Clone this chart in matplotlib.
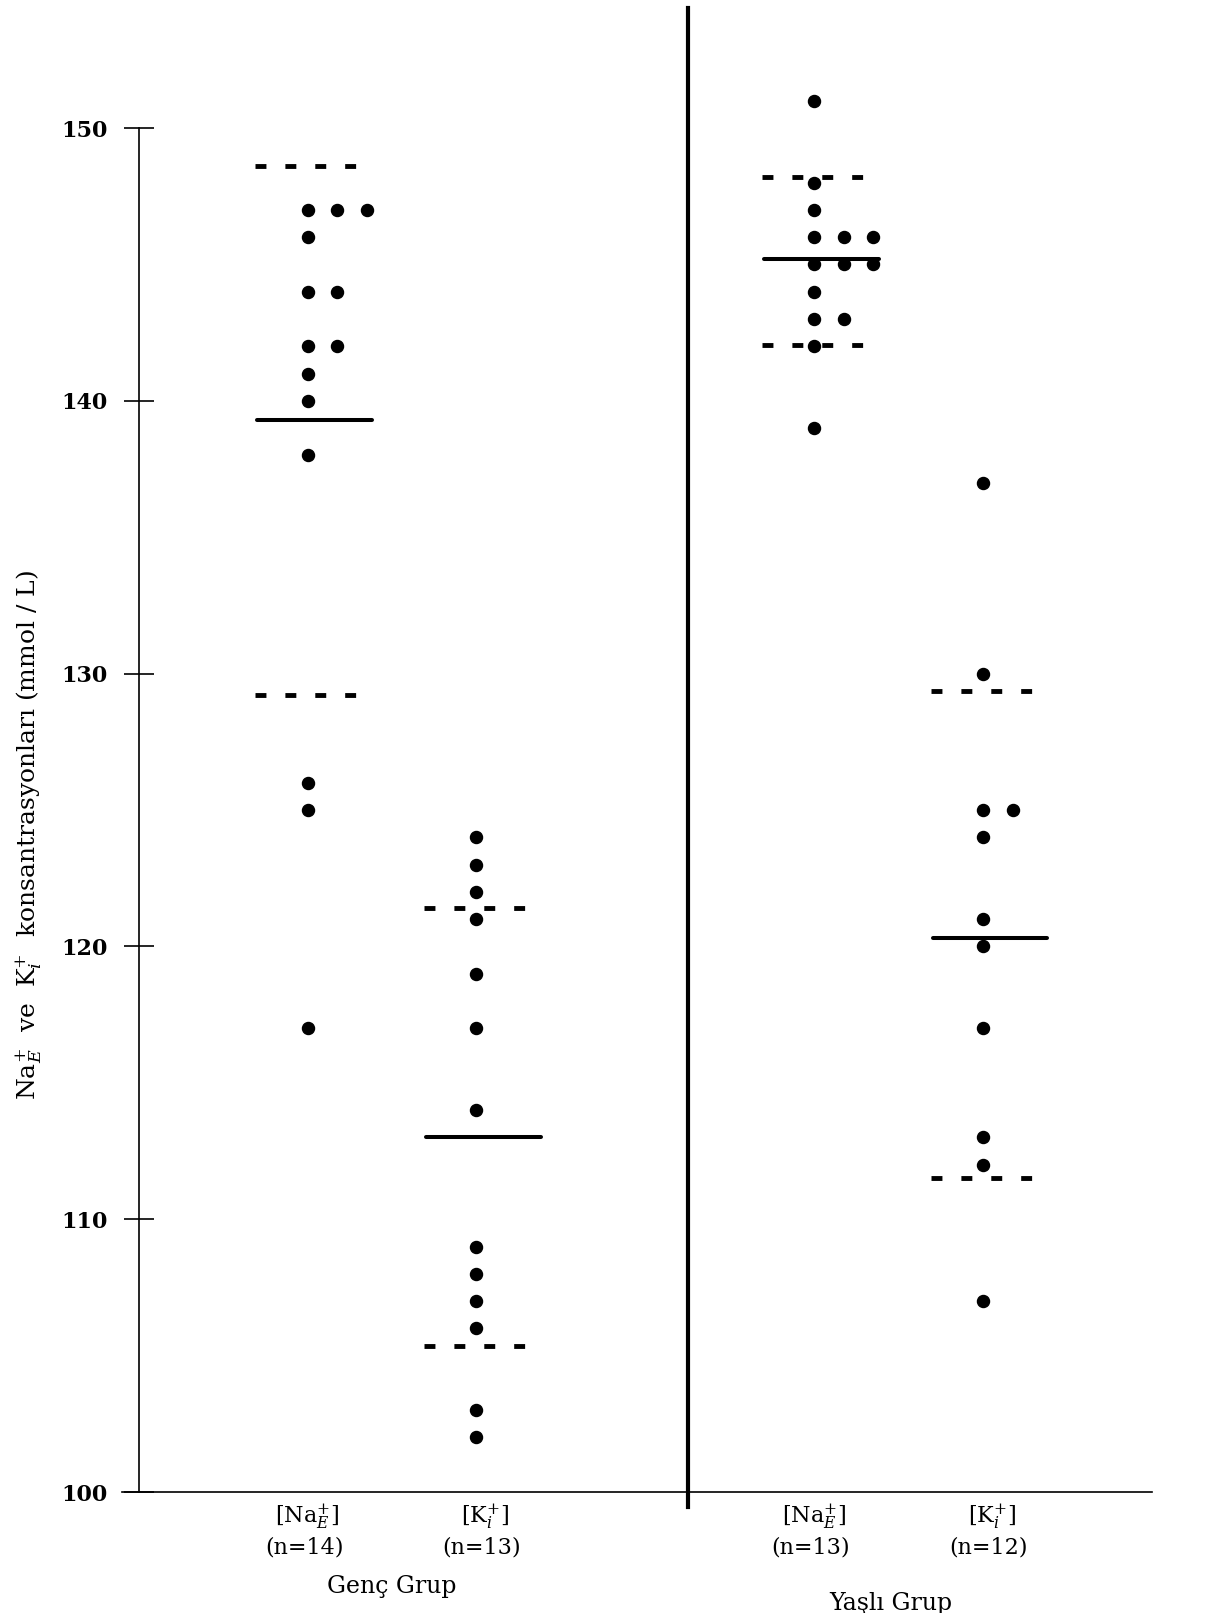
import matplotlib
matplotlib.use("Agg")
import matplotlib.pyplot as plt
from collections import Counter

# (mmol / L)
genc_na = [147, 147, 147, 146, 144, 144, 142, 142, 141, 140, 138, 126, 125, 117]
genc_k = [124, 123, 122, 121, 119, 117, 114, 109, 108, 107, 106, 103, 102]
yasli_na = [151, 148, 147, 146, 146, 146, 145, 145, 145, 144, 143, 143, 142, 139]
yasli_k = [137, 130, 125, 125, 124, 121, 120, 117, 113, 112, 107]

groups = [genc_na, genc_k, yasli_na, yasli_k]
col_labels = [r"[Na$^{+}_{E}$]", r"[K$^{+}_{i}$]", r"[Na$^{+}_{E}$]", r"[K$^{+}_{i}$]"]
n_labels = ["(n=14)", "(n=13)", "(n=13)", "(n=12)"]
group_names = ["Genç Grup", "Yaşlı Grup"]

means = [139.3, 113.0, 145.2, 120.3]
sd_upper = [148.6, 121.4, 148.2, 129.35]
sd_lower = [129.2, 105.35, 142.05, 111.5]

xpos = [1, 2, 4, 5]

plt.rcParams['font.family'] = ['DejaVu Serif']
plt.rcParams['mathtext.fontset'] = 'dejavuserif'

fig = plt.figure(figsize=(12.27, 16.13), dpi=100)
ax = fig.add_axes([0.113, 0.075, 0.826, 0.920])

# repeated values are set side by side
step = 0.175
for x, vals in zip(xpos, groups):
    seen = Counter()
    xs = []
    for v in vals:
        xs.append(x + seen[v] * step)
        seen[v] += 1
    ax.scatter(xs, vals, s=75, color='black', zorder=3)

# mean (solid) and mean +/- SD (dashed)
for x, m, hi, lo in zip(xpos, means, sd_upper, sd_lower):
    ax.plot([x - 0.3, x + 0.38], [m, m], color='black', lw=2.9,
            solid_capstyle='round', zorder=2)
    for y in (hi, lo):
        ax.plot([x - 0.31, x + 0.31], [y, y], color='black', lw=3.5,
                linestyle=(0, (2.25, 3.9)), dash_capstyle='butt', zorder=2)

# separator between the two groups
ax.plot([3.25, 3.25], [99.45, 154.4], color='black', lw=3, clip_on=False)

ax.set_xlim(0, 6)
ax.set_ylim(100, 154.4)
ax.set_yticks([100, 110, 120, 130, 140, 150])
ax.set_xticks([])
ax.spines['top'].set_visible(False)
ax.spines['right'].set_visible(False)
ax.spines['left'].set_bounds(100, 150)
ax.spines['left'].set_linewidth(1.2)
ax.spines['bottom'].set_linewidth(1.2)
ax.spines['bottom'].set_bounds(-0.1, 6)
ax.tick_params(axis='y', direction='inout', length=21, width=1.2, pad=12,
               labelsize=16)
for t in ax.get_yticklabels():
    t.set_fontweight('bold')

tr = ax.get_xaxis_transform()
for x, lab, n in zip(xpos, col_labels, n_labels):
    dx = 0 if 'Na' in lab else 0.05
    ax.annotate(lab, xy=(x + dx, 0), xycoords=tr, xytext=(0, -18),
                textcoords='offset points', ha='center', va='center', fontsize=16)
    ax.annotate(n, xy=(x + dx - 0.02, 0), xycoords=tr, xytext=(0, -40),
                textcoords='offset points', ha='center', va='center', fontsize=16)

ax.annotate(group_names[0], xy=(1.5, 0), xycoords=tr, xytext=(0, -68),
            textcoords='offset points', ha='center', va='center', fontsize=17)
ax.annotate(group_names[1], xy=(4.45, 0), xycoords=tr, xytext=(0, -80),
            textcoords='offset points', ha='center', va='center', fontsize=17)

fig.text(29 / 1227, 1 - 835 / 1613,
         r"Na$^{+}_{E}$  ve  K$^{+}_{i}$  konsantrasyonları (mmol / L)",
         rotation=90, ha='center', va='center', fontsize=18)

fig.savefig("out.png", dpi=100)
